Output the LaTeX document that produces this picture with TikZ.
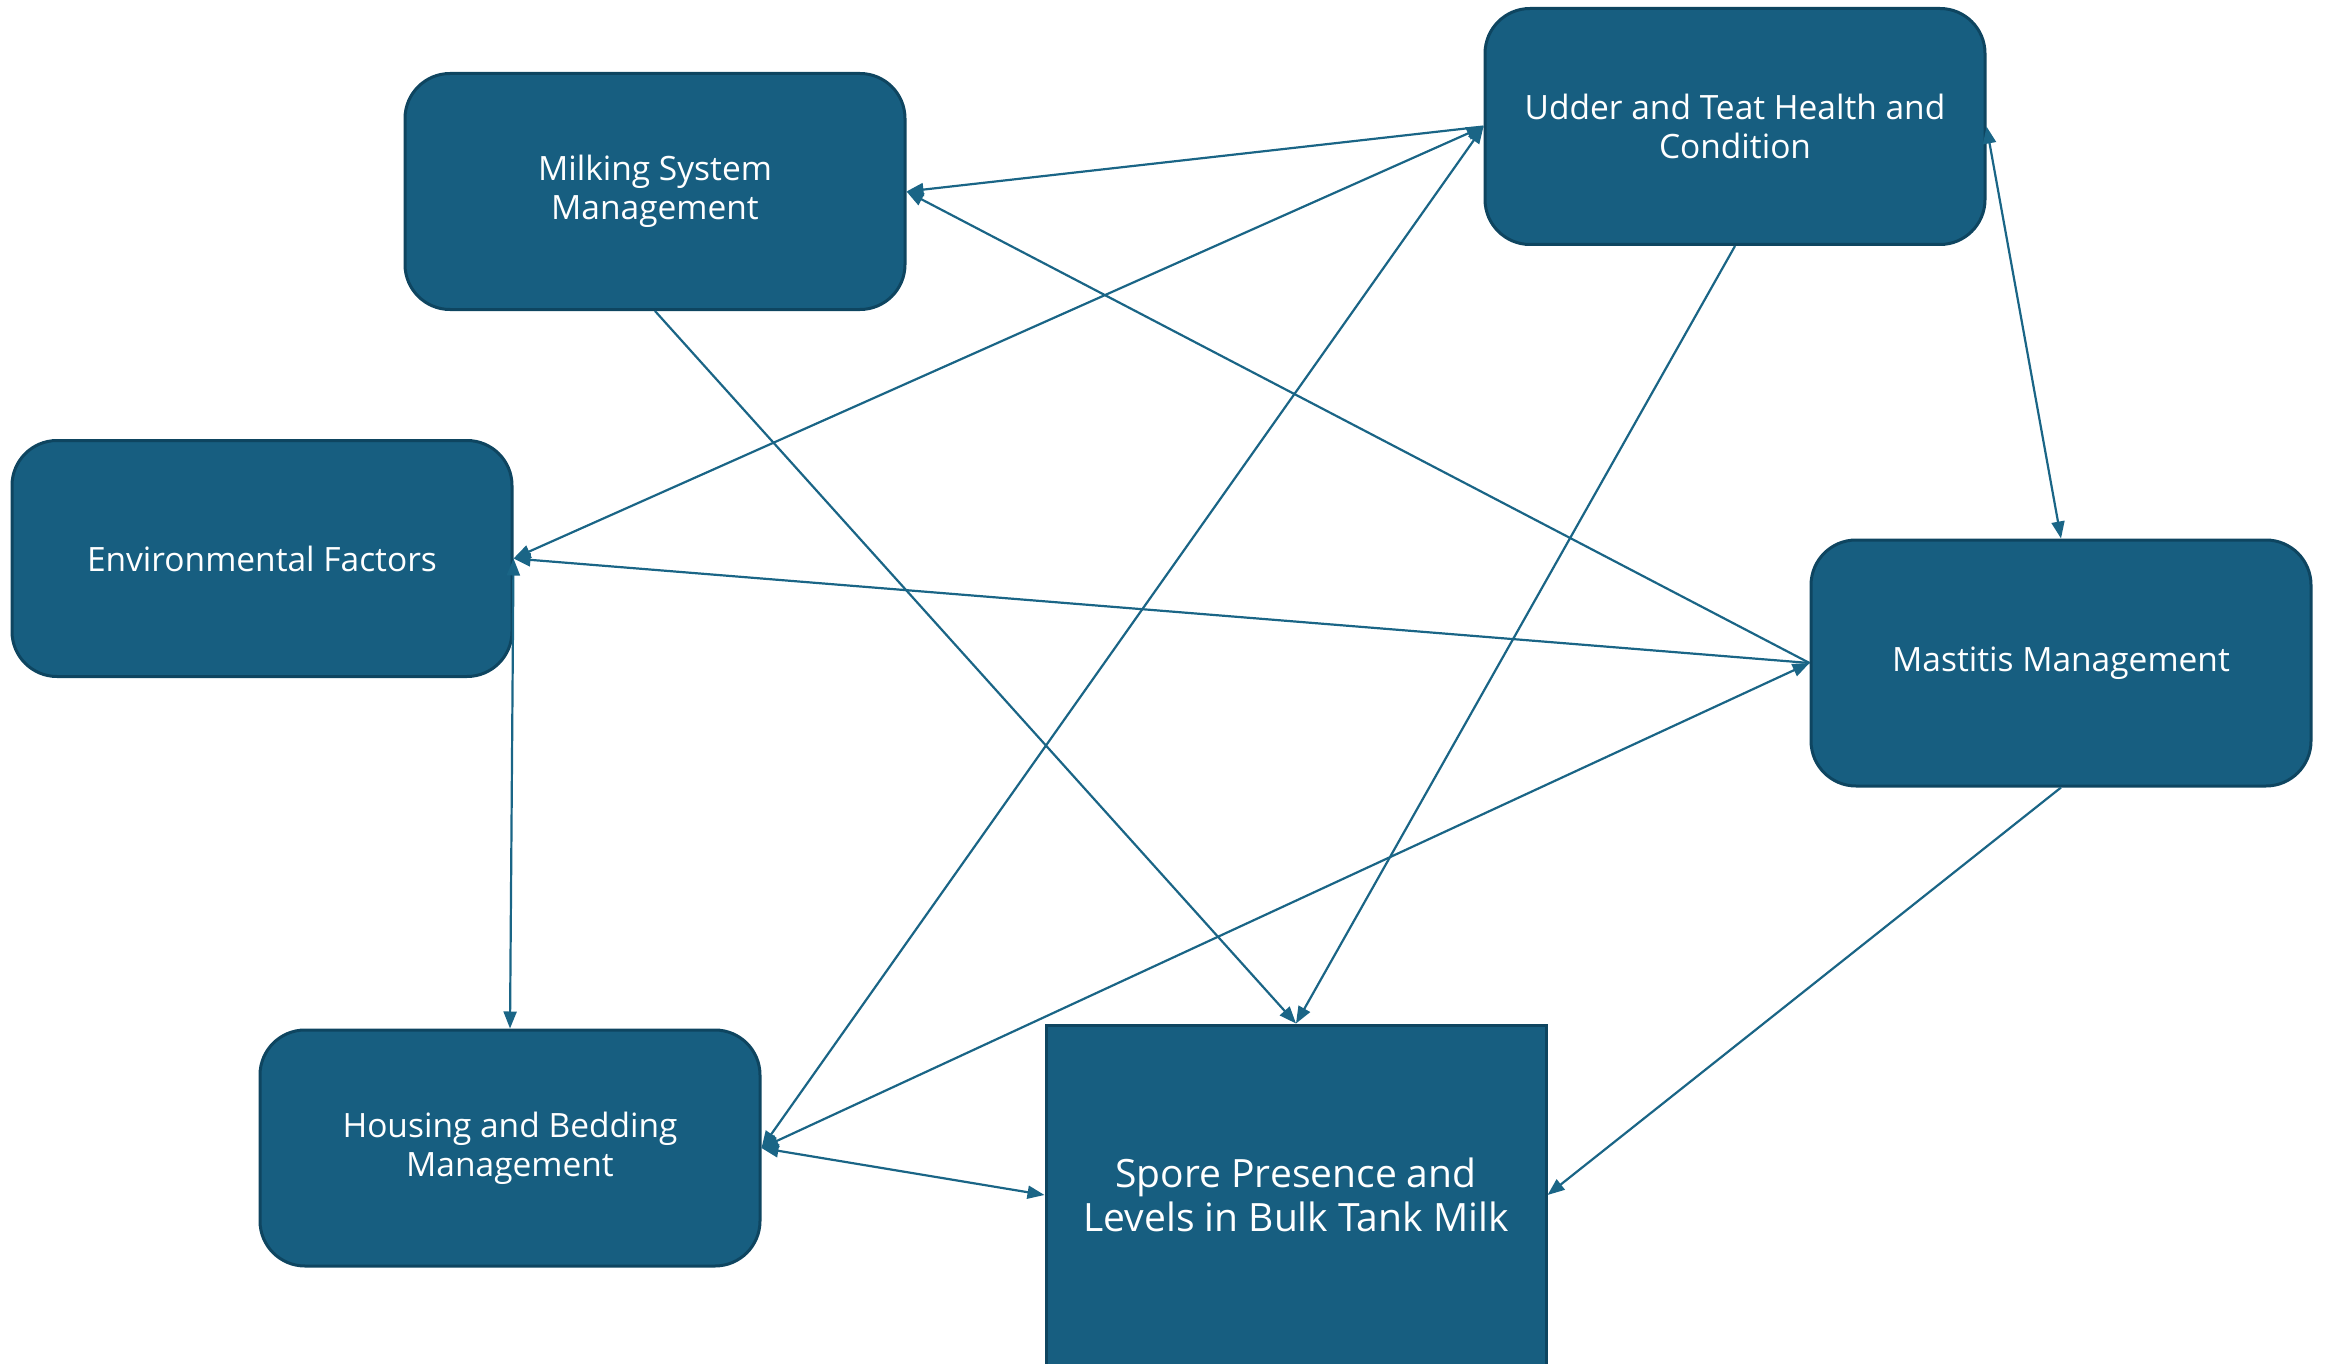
\documentclass[tikz,border=0pt]{standalone}
\usepackage{fontspec}
\setmainfont{Open Sans}
\usetikzlibrary{arrows.meta}
\definecolor{boxfill}{HTML}{175E80}
\definecolor{boxline}{HTML}{0E4560}
\definecolor{edgecol}{HTML}{1A6586}
\tikzset{
  roundbox/.style={draw=boxline, line width=3pt, fill=boxfill, rounded corners=45pt,
    minimum width=500pt, minimum height=236pt, text=white, align=center,
    font=\fontsize{33.5}{39}\selectfont, inner sep=0pt},
  squarebox/.style={draw=boxline, line width=3pt, fill=boxfill,
    minimum width=500pt, minimum height=340pt, text=white, align=center,
    font=\fontsize{39}{44}\selectfont, inner sep=0pt},
  link/.style={draw=edgecol, line width=2.2pt, -{Triangle[length=17pt,width=13pt]}},
  blink/.style={draw=edgecol, line width=2.2pt, {Triangle[length=17pt,width=13pt]}-{Triangle[length=17pt,width=13pt]}}
}
\begin{document}
\begin{tikzpicture}[x=1pt,y=-1pt]
\useasboundingbox (0,0) rectangle (2333,1364);
\node[roundbox] (milk) at (655,191.5) {Milking System\\Management};
\node[roundbox] (udder) at (1735,126.5) {Udder and Teat Health and\\Condition};
\node[roundbox] (env) at (262,558.5) {Environmental Factors};
\node[roundbox, minimum height=246pt] (mast) at (2061,663) {Mastitis Management};
\node[roundbox] (house) at (510,1148) {Housing and Bedding\\Management};
\node[squarebox] (spore) at (1296,1195) {Spore Presence and\\Levels in Bulk Tank Milk};

\draw[link] (udder.west) -- (milk.east);
\draw[link] (mast.west) -- (milk.east);
\draw[blink] (env.east) -- (udder.west);
\draw[blink] (house.east) -- (udder.west);
\draw[link] (udder.south) -- (spore.north);
\draw[link] (milk.south) -- (spore.north);
\draw[blink] (udder.east) -- (mast.north);
\draw[link] (mast.west) -- (env.east);
\draw[blink] (env.east) -- (house.north);
\draw[blink] (house.east) -- (mast.west);
\draw[link] (mast.south) -- (spore.east);
\draw[blink] (house.east) -- (spore.west);
\end{tikzpicture}
\end{document}
